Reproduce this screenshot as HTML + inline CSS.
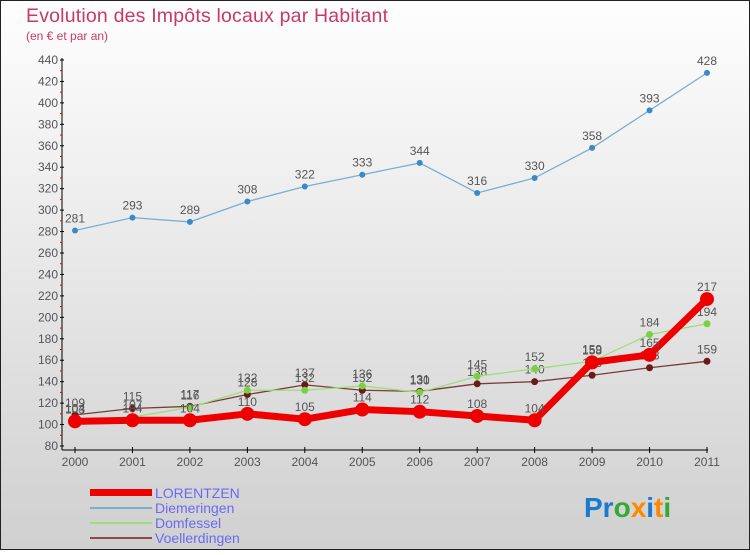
<!DOCTYPE html>
<html><head><meta charset="utf-8"><style>
body{margin:0;width:750px;height:550px;overflow:hidden;font-family:"Liberation Sans",sans-serif}
svg text{font-family:"Liberation Sans",sans-serif}
</style></head><body>
<svg id="c" width="750" height="550">
<defs><linearGradient id="bg" x1="0" y1="0" x2="0" y2="1"><stop offset="0" stop-color="#fefefe"/><stop offset="1" stop-color="#d0d0d0"/></linearGradient></defs>
<rect x="0.5" y="0.5" width="749" height="549" fill="url(#bg)" stroke="#222"/>
<text x="26" y="22" font-size="19.5" textLength="362" fill="#c8386a">Evolution des Impôts locaux par Habitant</text>
<text x="26" y="40" font-size="12" fill="#c8386a">(en € et par an)</text>
<g id="axes"></g><g id="series"></g>
<g>
<rect x="90" y="489" width="62" height="7" fill="#e00"/>
<text x="155" y="498" font-size="14" fill="#6a6af0">LORENTZEN</text>
<line x1="90" x2="152" y1="508" y2="508" stroke="#7aaed0" stroke-width="2"/>
<text x="155" y="513" font-size="14" fill="#6a6af0">Diemeringen</text>
<line x1="90" x2="152" y1="523" y2="523" stroke="#9ede78" stroke-width="2"/>
<text x="155" y="528" font-size="14" fill="#6a6af0">Domfessel</text>
<line x1="90" x2="152" y1="538" y2="538" stroke="#8a4a4a" stroke-width="2"/>
<text x="155" y="543" font-size="14" fill="#6a6af0">Voellerdingen</text>
</g>
<text x="584" y="517" font-size="28" font-weight="bold"><tspan fill="#1a7ad0">Pr</tspan><tspan fill="#3a3">o</tspan><tspan fill="#f80">x</tspan><tspan fill="#1a7ad0">i</tspan><tspan fill="#f80">t</tspan><tspan fill="#3a3">i</tspan></text>
</svg>
<script>
const years=[2000,2001,2002,2003,2004,2005,2006,2007,2008,2009,2010,2011];
const lorentzen=[103,104,104,110,105,114,112,108,104,158,165,217];
const diemeringen=[281,293,289,308,322,333,344,316,330,358,393,428];
const domfessel=[104,107,116,132,132,136,130,145,152,159,184,194];
const voellerdingen=[109,115,117,128,137,132,131,138,140,146,153,159];
const yTicks=[80,100,120,140,160,180,200,220,240,260,280,300,320,340,360,380,400,420,440];
const NS='http://www.w3.org/2000/svg';
const x=i=>75+i*(707-75)/(years.length-1);
const y=v=>446-(v-80)*(446-60)/360;
function mk(t,a,p){const e=document.createElementNS(NS,t);for(const k in a)e.setAttribute(k,a[k]);p.appendChild(e);return e;}
const ax=document.getElementById('axes');
let l=mk('line',{x1:62,x2:62,y1:58,y2:450,stroke:'#000'},ax);


l=mk('line',{x1:62,x2:708,y1:450,y2:450,stroke:'#000'},ax);


yTicks.forEach((v,i)=>{
 const t=mk('line',{x1:60,x2:64,y1:y(v),y2:y(v),stroke:'#000'},ax);
 
 
 if(i<yTicks.length-1){const m=mk('line',{x1:60,x2:62,y1:y(v+10),y2:y(v+10),stroke:'#e00'},ax);
 
 }
 const tx=mk('text',{x:58,y:y(v)+4,'font-size':12,'text-anchor':'end',fill:'#555'},ax);tx.textContent=v;
 
 
});
years.forEach((yr,i)=>{
 const t=mk('line',{x1:x(i),x2:x(i),y1:447,y2:453,stroke:'#000'},ax);
 
 
 const tx=mk('text',{x:x(i),y:466,'font-size':12,'text-anchor':'middle',fill:'#555'},ax);tx.textContent=yr;
 
 
});
const sg=document.getElementById('series');
function series(name,vals,col,w,r,dot){
 const g=mk('g',{},sg);
 
 
 const p=mk('polyline',{points:vals.map((v,i)=>x(i)+','+y(v)).join(' '),fill:'none',stroke:col,'stroke-width':w},g);
 
 
 vals.forEach((v,i)=>{
  const c=mk('circle',{cx:x(i),cy:y(v),r:r,fill:dot},g);
  
  
  const t=mk('text',{x:x(i),y:y(v)-8,'font-size':12,'text-anchor':'middle',fill:'#555'},g);t.textContent=v;
  
  
 });
}
series('diemeringen',diemeringen,'#7aaed0',1.3,3,'#3a8ac8');
series('voellerdingen',voellerdingen,'#7a3a3a',1.3,3.5,'#6a1a1a');
series('domfessel',domfessel,'#9ede78',1.3,3.5,'#7ad040');
series('lorentzen',lorentzen,'#ee0000',7,7,'#ee0000');
</script>
</body></html>
